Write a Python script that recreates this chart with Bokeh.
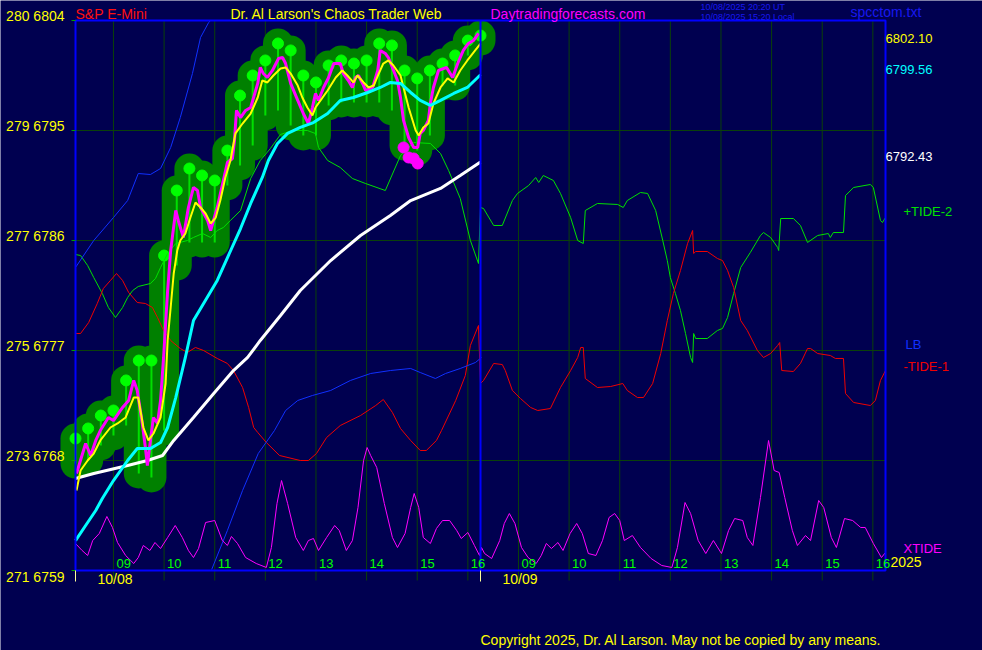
import math
import numpy as np
from bokeh.plotting import figure
from bokeh.models import Range1d, Label
from bokeh.embed import file_html
from bokeh.resources import INLINE
from bokeh.core.properties import value

FONT = "Liberation Sans"
BG = "#000050"
GRID = "#0A400A"
BLUE = "#0000FF"

# ---------------- data ----------------
# x = trading-session hours elapsed (session starts 08:15, 8 h per day, two days)
session_start = 8.25
session_len = 8.0
day_labels = ["10/08", "10/09"]
hour_labels = ["09", "10", "11", "12", "13", "14", "15", "16"]

price_ticks = [6759, 6768, 6777, 6786, 6795, 6804]
price_tick_labels = ["271 6759", "273 6768", "275 6777", "277 6786", "279 6795", "280 6804"]

# close price (magenta)
close_t = [0.02, 0.20, 0.30, 0.40, 0.49, 0.65, 0.75, 0.93, 1.05, 1.15,
           1.22, 1.32, 1.38, 1.42, 1.48, 1.54, 1.62, 1.68, 1.74, 1.78,
           1.82, 1.88, 1.98, 2.03, 2.13, 2.23, 2.33, 2.41, 2.47, 2.61,
           2.67, 2.80, 2.92, 3.00, 3.10, 3.14, 3.18, 3.26, 3.36, 3.46,
           3.60, 3.65, 3.71, 3.79, 3.89, 4.01, 4.09, 4.15, 4.25, 4.39,
           4.50, 4.60, 4.68, 4.74, 4.80, 4.90, 5.00, 5.10, 5.23, 5.29,
           5.39, 5.47, 5.53, 5.59, 5.67, 5.73, 5.87, 5.97, 6.02, 6.12,
           6.18, 6.26, 6.36, 6.42, 6.48, 6.58, 6.68, 6.76, 6.81, 6.87,
           6.97, 7.01, 7.07, 7.17, 7.33, 7.45, 7.55, 7.66, 7.76, 7.86,
           7.96]
close_p = [6766.94, 6769.39, 6768.41, 6769.64, 6770.45, 6771.52, 6771.27, 6772.34, 6772.91, 6774.55,
           6773.73, 6771.03, 6769.06, 6767.59, 6769.64, 6771.52, 6771.03, 6772.91, 6776.43, 6779.21,
           6781.91, 6785.18, 6788.46, 6787.64, 6786.25, 6788.70, 6790.34, 6790.09, 6788.70, 6787.64,
           6786.82, 6788.70, 6790.91, 6792.38, 6792.71, 6794.18, 6796.64, 6796.06, 6796.64, 6796.88,
           6798.85, 6800.16, 6799.66, 6799.34, 6799.91, 6800.89, 6800.97, 6800.48, 6798.85, 6797.46,
           6796.39, 6795.57, 6796.88, 6798.03, 6797.46, 6798.52, 6799.34, 6800.48, 6800.48, 6799.66,
           6799.09, 6798.52, 6799.34, 6799.50, 6798.85, 6798.27, 6798.52, 6799.91, 6801.55, 6801.30,
           6800.97, 6800.16, 6799.09, 6797.70, 6795.82, 6794.43, 6793.61, 6793.61, 6794.76, 6795.00,
           6795.82, 6797.21, 6798.52, 6799.91, 6800.16, 6799.34, 6800.48, 6801.55, 6802.12, 6802.36,
           6802.94]

# fast average (yellow)
yellow_t = [0.02, 0.10, 0.24, 0.36, 0.49, 0.69, 0.83, 0.99, 1.15, 1.24,
            1.34, 1.44, 1.54, 1.68, 1.78, 1.82, 1.88, 1.94, 2.01, 2.07,
            2.17, 2.27, 2.37, 2.47, 2.57, 2.67, 2.77, 2.86, 2.96, 3.06,
            3.16, 3.30, 3.46, 3.60, 3.69, 3.79, 3.91, 4.05, 4.15, 4.25,
            4.39, 4.48, 4.58, 4.68, 4.74, 4.84, 4.98, 5.14, 5.27, 5.37,
            5.49, 5.57, 5.69, 5.79, 5.89, 5.99, 6.08, 6.18, 6.28, 6.42,
            6.48, 6.58, 6.72, 6.78, 6.87, 6.97, 7.07, 7.21, 7.35, 7.47,
            7.60, 7.74, 7.86, 8.00]
yellow_p = [6765.55, 6767.18, 6768.00, 6768.57, 6769.64, 6770.70, 6771.03, 6771.52, 6773.15, 6773.15,
            6770.70, 6769.64, 6770.21, 6771.52, 6774.30, 6777.82, 6780.52, 6783.30, 6785.18, 6786.00,
            6786.57, 6787.88, 6789.11, 6788.70, 6788.21, 6787.39, 6787.88, 6789.27, 6791.16, 6792.55,
            6794.76, 6795.57, 6796.39, 6797.70, 6799.09, 6798.93, 6799.50, 6800.07, 6800.16, 6799.66,
            6798.68, 6797.70, 6796.88, 6796.23, 6796.88, 6797.46, 6798.27, 6799.34, 6799.91, 6799.50,
            6798.93, 6799.50, 6798.93, 6798.52, 6798.68, 6799.66, 6800.48, 6800.73, 6800.32, 6799.50,
            6798.52, 6796.88, 6795.00, 6794.59, 6795.25, 6795.57, 6797.21, 6798.52, 6799.26, 6798.93,
            6799.91, 6800.73, 6801.38, 6802.10]

# medium average (cyan)
cyan_t = [0.00, 0.20, 0.40, 0.53, 0.75, 1.03, 1.22, 1.48, 1.68, 1.82,
          1.98, 2.17, 2.33, 2.53, 2.80, 3.02, 3.26, 3.46, 3.69, 3.81,
          3.99, 4.19, 4.44, 4.70, 4.98, 5.23, 5.49, 5.77, 6.02, 6.22,
          6.42, 6.62, 6.81, 7.01, 7.21, 7.47, 7.74, 8.00]
cyan_p = [6761.45, 6762.68, 6763.91, 6764.89, 6766.36, 6768.00, 6768.98, 6768.98, 6769.47, 6770.70,
          6773.15, 6776.43, 6779.45, 6780.85, 6782.73, 6784.77, 6786.98, 6789.03, 6791.16, 6792.55,
          6793.94, 6794.76, 6795.25, 6795.65, 6796.39, 6797.46, 6797.70, 6798.11, 6798.52, 6798.93,
          6798.85, 6798.11, 6797.46, 6797.05, 6797.46, 6798.03, 6798.52, 6799.56]

# slow average (white)
white_t = [0.00, 0.36, 1.03, 1.42, 1.72, 1.94, 2.33, 2.73, 3.12, 3.40,
           3.65, 4.05, 4.44, 5.04, 5.63, 6.22, 6.62, 7.21, 7.60, 8.00]
white_p = [6766.53, 6766.94, 6767.59, 6768.00, 6768.41, 6769.64, 6771.52, 6773.48, 6775.36, 6776.43,
           6777.82, 6779.86, 6781.91, 6784.36, 6786.41, 6788.05, 6789.27, 6790.26, 6791.32, 6792.43]

# 15-minute bars: high / low
bar_t = [k * 0.25 for k in range(33)]
bar_hi = [6769.80, 6770.62, 6771.68, 6772.09, 6774.55, 6776.18, 6776.18, 6784.77, 6790.09, 6791.89,
          6791.32, 6790.91, 6793.36, 6797.86, 6799.50, 6800.73, 6802.12, 6801.55, 6799.50, 6798.93,
          6800.32, 6800.73, 6800.48, 6800.73, 6802.12, 6801.96, 6799.91, 6799.26, 6799.91, 6800.48,
          6801.14, 6802.36, 6802.77]
bar_lo = [6767.75, 6768.00, 6769.23, 6770.05, 6770.86, 6766.94, 6766.61, 6770.45, 6783.95, 6785.84,
          6785.84, 6785.84, 6790.50, 6792.14, 6793.77, 6796.23, 6796.64, 6795.41, 6794.59, 6794.59,
          6797.05, 6797.29, 6797.29, 6797.29, 6797.29, 6796.64, 6793.77, 6793.36, 6794.59, 6798.68,
          6798.68, 6801.14, 6802.36]

# low markers (magenta dots)
mark_t = [6.48, 6.58, 6.68, 6.76]
mark_p = [6793.61, 6792.79, 6792.71, 6792.30]

# tides (0-100 oscillator scale)
tide2_t = [0.00, 0.10, 0.24, 0.36, 0.53, 0.65, 0.79, 0.93, 1.03, 1.13,
           1.24, 1.48, 1.58, 1.68, 1.82, 1.98, 2.21, 2.33, 2.51, 2.67,
           2.80, 2.92, 3.06, 3.26, 3.46, 3.65, 3.85, 4.05, 4.29, 4.58,
           4.74, 4.80, 4.98, 5.23, 5.47, 5.73, 6.12, 6.42, 6.68, 7.01,
           7.21, 7.37, 7.60, 7.80, 7.96, 8.00,
           8.06, 8.26, 8.43, 8.63, 8.73, 8.95, 9.09, 9.15, 9.24, 9.44,
           9.58, 9.78, 9.92, 10.03, 10.07, 10.31, 10.71, 10.82, 10.90, 11.16,
           11.30, 11.46, 11.60, 11.69, 11.75, 11.85, 11.95, 12.05, 12.15, 12.19,
           12.21, 12.25, 12.48, 12.68, 12.78, 12.88, 13.00, 13.14, 13.33, 13.53,
           13.59, 13.73, 13.87, 13.89, 13.93, 14.18, 14.32, 14.46, 14.66, 14.87,
           14.91, 14.97, 15.17, 15.21, 15.37, 15.70, 15.76, 15.90, 15.94, 16.00]
tide2_v = [57.45, 57.27, 55.45, 53.27, 50.36, 47.82, 46.00, 47.82, 49.64, 50.91,
           51.64, 52.18, 53.09, 55.09, 57.64, 59.45, 60.00, 60.55, 61.27, 60.55,
           61.82, 62.36, 63.64, 65.45, 71.27, 74.55, 76.73, 79.27, 80.00, 80.00,
           79.45, 76.91, 74.55, 73.27, 71.27, 70.36, 69.09, 75.45, 77.82, 77.64,
           75.82, 72.73, 67.64, 60.00, 55.82, 66.00,
           65.82, 62.73, 62.73, 67.27, 68.55, 70.00, 71.45, 70.55, 71.82, 70.91,
           68.55, 64.18, 60.00, 59.45, 65.45, 66.73, 66.55, 66.00, 67.27, 68.73,
           68.55, 65.45, 60.00, 56.36, 53.27, 50.36, 47.27, 43.09, 38.73, 37.82,
           43.09, 42.18, 42.18, 43.64, 44.00, 46.00, 50.36, 55.09, 57.82, 60.91,
           61.45, 60.55, 58.73, 58.18, 64.00, 64.00, 62.73, 59.64, 60.91, 61.27,
           60.55, 61.45, 61.45, 68.18, 69.64, 70.18, 69.64, 63.64, 63.27, 64.18]

tide1_t = [0.00, 0.10, 0.26, 0.43, 0.55, 0.69, 0.81, 0.93, 1.05, 1.22,
           1.38, 1.52, 1.62, 1.74, 1.88, 2.07, 2.21, 2.37, 2.53, 2.80,
           3.00, 3.12, 3.30, 3.42, 3.52, 3.60, 3.77, 4.03, 4.44, 4.60,
           4.76, 4.96, 5.23, 5.63, 5.93, 6.08, 6.26, 6.42, 6.62, 6.81,
           6.93, 7.13, 7.23, 7.51, 7.70, 7.80, 7.96, 8.00,
           8.06, 8.26, 8.43, 8.49, 8.63, 8.79, 8.99, 9.13, 9.38, 9.58,
           9.78, 9.92, 9.98, 10.03, 10.07, 10.31, 10.57, 10.81, 10.90, 11.10,
           11.22, 11.40, 11.56, 11.69, 11.81, 11.95, 12.09, 12.19, 12.21, 12.25,
           12.48, 12.68, 12.78, 12.88, 13.00, 13.14, 13.27, 13.47, 13.59, 13.73,
           13.87, 13.91, 13.95, 14.18, 14.32, 14.46, 14.52, 14.66, 14.91, 15.01,
           15.17, 15.21, 15.37, 15.70, 15.80, 15.90, 16.00]
tide1_v = [43.09, 43.09, 45.09, 48.55, 51.27, 52.73, 54.00, 52.73, 50.55, 48.73,
           48.55, 47.82, 46.00, 43.64, 41.82, 40.36, 39.64, 40.55, 40.00, 38.55,
           37.64, 36.36, 33.27, 29.64, 26.00, 25.09, 23.27, 20.91, 20.00, 20.00,
           21.27, 24.18, 26.36, 28.18, 30.00, 31.09, 28.73, 25.82, 23.64, 21.82,
           21.82, 23.64, 25.45, 30.91, 35.45, 40.91, 44.55, 34.00,
           34.55, 37.64, 37.45, 36.36, 32.73, 31.27, 29.64, 29.09, 29.45, 33.27,
           36.36, 38.73, 40.55, 40.55, 34.91, 33.27, 33.45, 34.00, 32.73, 31.45,
           31.45, 34.00, 39.45, 45.45, 50.36, 54.55, 59.45, 61.82, 57.64, 58.00,
           58.00, 56.73, 56.36, 54.55, 51.45, 45.45, 43.64, 40.00, 38.73, 39.45,
           40.91, 41.45, 36.36, 36.18, 37.64, 40.36, 40.36, 39.45, 39.09, 38.55,
           38.55, 32.18, 30.55, 30.00, 30.91, 34.55, 36.36]

NAN = float("nan")
lb_t = [0.00, 0.36, 0.75, 1.03, 1.24, 1.48, 1.68, 1.88, 2.07, 2.31,
        2.47, 2.63, 2.67, NAN, 2.69, 3.00, 3.30, 3.61, 3.93,
        4.15, 4.39, 4.68, 5.04, 5.43, 5.83, 6.22, 6.62, 6.81, 7.11,
        7.31, 7.60, 7.90, 8.02]
lb_v = [55.09, 60.00, 64.18, 67.27, 72.18, 72.00, 73.09, 76.91, 82.36, 90.36,
        96.91, 99.64, 100.00, NAN, 0.18, 7.27, 14.55, 21.27, 25.45,
        29.09, 30.91, 31.82, 32.73, 34.55, 35.82, 36.36, 36.73, 36.00, 34.91,
        35.82, 36.73, 37.82, 38.73]

xtide_t = [0.00, 0.13, 0.24, 0.34, 0.47, 0.62, 0.73, 0.83, 0.99, 1.15,
           1.24, 1.34, 1.47, 1.57, 1.68, 1.82, 1.97, 2.11, 2.23, 2.33,
           2.43, 2.57, 2.75, 2.90, 3.00, 3.08, 3.20, 3.36, 3.57, 3.77,
           3.87, 3.98, 4.07, 4.19, 4.35, 4.50, 4.60, 4.70, 4.80, 4.96,
           5.12, 5.21, 5.35, 5.47, 5.58, 5.69, 5.76, 5.83, 5.95, 6.10,
           6.26, 6.36, 6.51, 6.62, 6.69, 6.78, 6.87, 7.01, 7.13, 7.25,
           7.39, 7.53, 7.62, 7.75, 7.88, 7.98, 8.02, 8.08, 8.22, 8.38,
           8.47, 8.57, 8.68, 8.81, 8.94, 9.10, 9.20, 9.30, 9.40, 9.53,
           9.63, 9.77, 9.90, 10.01, 10.13, 10.28, 10.41, 10.54, 10.65, 10.75,
           10.84, 11.00, 11.16, 11.37, 11.58, 11.78, 11.89, 12.04, 12.15, 12.30,
           12.45, 12.60, 12.76, 12.90, 13.02, 13.18, 13.27, 13.38, 13.53, 13.69,
           13.80, 13.90, 14.01, 14.16, 14.26, 14.42, 14.52, 14.68, 14.78, 14.93,
           15.03, 15.19, 15.35, 15.51, 15.60, 15.76, 15.92, 16.00]
xtide_v = [4.91, 3.64, 2.73, 5.45, 6.73, 9.82, 7.82, 5.09, 2.73, 1.27,
           2.36, 4.55, 3.64, 5.09, 4.00, 6.00, 8.18, 6.00, 3.64, 2.36,
           4.00, 8.73, 9.09, 5.45, 4.55, 6.18, 4.91, 2.36, 1.27, 0.55,
           4.18, 12.18, 16.36, 12.18, 6.00, 3.64, 5.45, 5.82, 3.64, 6.00,
           8.18, 7.27, 3.64, 5.45, 11.45, 20.00, 22.36, 20.91, 18.73, 12.18,
           6.00, 4.18, 6.73, 11.45, 14.00, 11.45, 6.00, 4.91, 7.64, 9.09,
           9.09, 7.27, 5.82, 6.91, 4.55, 2.73, 4.18, 3.09, 2.18, 5.45,
           8.55, 10.36, 8.55, 4.18, 2.36, 1.27, 2.73, 4.91, 4.00, 5.09,
           3.64, 6.73, 8.55, 6.73, 3.09, 2.73, 5.45, 9.64, 10.36, 9.09,
           5.45, 6.36, 4.18, 2.18, 0.91, 0.55, 4.18, 12.36, 10.36, 5.45,
           3.09, 5.45, 3.09, 7.27, 9.45, 9.09, 6.00, 4.55, 13.27, 23.64,
           18.18, 17.82, 13.27, 7.27, 4.55, 6.36, 5.45, 12.73, 11.45, 6.00,
           4.18, 9.45, 9.09, 7.82, 7.82, 4.91, 2.36, 3.27]

last_values = [6802.10, 6799.56, 6792.43]

# ---------------- layout (pixels) ----------------
W, H = 982, 650
FL, FR, FT, FB = 75, 885, 20, 570          # plot box edges on the canvas
SHIFT = 5                                   # baseline correction for 13-14px text
x_span = len(day_labels) * session_len
ymin, ymax = price_ticks[0], price_ticks[-1]
xpx = (FR - FL) / x_span
ypx = (FB - FT) / (ymax - ymin)
tpx = (FB - FT) / 100.0

p = figure(width=W, height=H,
           x_range=Range1d(-FL / xpx, (W - FL) / xpx),
           y_range=Range1d(ymin - (H - FB) / ypx, ymax + FT / ypx),
           x_axis_type=None, y_axis_type=None,
           output_backend="svg", toolbar_location=None,
           background_fill_color=BG, border_fill_color=BG,
           min_border=0, min_border_left=0, min_border_right=0,
           min_border_top=0, min_border_bottom=0)
p.extra_y_ranges = {"tide": Range1d(0 - (H - FB) / tpx, 100 + FT / tpx)}
p.outline_line_color = None
p.xgrid.visible = False
p.ygrid.visible = False

day_starts = [i * session_len for i in range(len(day_labels))]
hour_x, hour_txt = [], []
for d in range(len(day_labels)):
    for h in hour_labels:
        hour_x.append(d * session_len + int(h) - session_start)
        hour_txt.append(h)

# grid
p.ray(x=hour_x, y=[ymax] * len(hour_x), length=FB - FT + 10, angle=-math.pi / 2,
      length_units="screen", line_color=GRID, line_width=1)
p.segment(x0=[0] * 4, y0=price_ticks[1:-1], x1=[x_span] * 4, y1=price_ticks[1:-1],
          line_color=GRID, line_width=1)

# price bubbles
p.segment(x0=bar_t, y0=bar_lo, x1=bar_t, y1=bar_hi, line_width=30,
          line_color="#008000", line_cap="round")
p.segment(x0=bar_t, y0=bar_lo, x1=bar_t, y1=bar_hi, line_width=2, line_color="#00E000")
p.scatter(bar_t, bar_hi, size=11, color="#00FF00")

# tides
p.line(np.array(tide2_t), np.array(tide2_v), y_range_name="tide", line_color="#00E000", line_width=1)
p.line(np.array(tide1_t), np.array(tide1_v), y_range_name="tide", line_color="#F00000", line_width=1)
p.line(np.array(lb_t), np.array(lb_v), y_range_name="tide", line_color="#1030FF", line_width=1)
p.line(np.array(xtide_t), np.array(xtide_v), y_range_name="tide", line_color="#FF00FF", line_width=1)

# price lines
p.line(white_t, white_p, line_color="#FFFFFF", line_width=3)
p.line(close_t, close_p, line_color="#FF00FF", line_width=3)
p.line(yellow_t, yellow_p, line_color="#FFFF00", line_width=2)
p.line(cyan_t, cyan_p, line_color="#00FFFF", line_width=3)
p.scatter(mark_t, mark_p, size=11, color="#FF00FF")

# box, day separator, ticks
p.quad(left=0, right=x_span, bottom=ymin, top=ymax, fill_color=None,
       line_color=BLUE, line_width=2)
p.segment(x0=[day_starts[1]], y0=[ymin], x1=[day_starts[1]], y1=[ymax],
          line_color=BLUE, line_width=2)
p.ray(x=[0] * len(price_ticks), y=price_ticks, length=4, angle=math.pi,
      length_units="screen", line_color="#00A000", line_width=1)
p.ray(x=day_starts, y=[ymin] * len(day_starts), length=11, angle=-math.pi / 2,
      length_units="screen", line_color="#FFFF99", line_width=1)

# y tick labels
p.text(x=[0] * len(price_ticks), y=price_ticks, text=price_tick_labels,
       text_color="#FFFF00", text_font=value(FONT), text_font_size="14px",
       text_align="right", text_baseline="alphabetic", x_offset=-11,
       y_offset=[(11 if t == ymin else 0) - SHIFT for t in price_ticks])

# hour labels inside the box
p.text(x=hour_x, y=[ymin] * len(hour_x), text=hour_txt, text_color="#00FF00",
       text_font=value(FONT), text_font_size="13px", text_baseline="alphabetic",
       x_offset=3, y_offset=-2 - SHIFT)


def lab(text, x, y, color, size="14px", x_units="screen", y_units="screen",
        x_offset=0, shift=SHIFT):
    p.add_layout(Label(x=x, y=y, x_units=x_units, y_units=y_units, text=text,
                       text_color=color, text_font=FONT, text_font_size=size,
                       text_baseline="alphabetic", text_align="left",
                       x_offset=x_offset, y_offset=shift))


# header (y measured from canvas bottom, baseline positions)
lab("S&P E-Mini", 75, H - 18.5, "#FF1010")
lab("Dr. Al Larson's Chaos Trader Web", 230, H - 18.5, "#FFFF00")
lab("Daytradingforecasts.com", 490, H - 18.5, "#FF00FF")
lab("10/08/2025 20:20 UT", 700, H - 8.5, "#1818F0", size="9px", shift=2)
lab("10/08/2025 15:20 Local", 700, H - 18.5, "#1818F0", size="9px", shift=2)
lab("spcctom.txt", 850, H - 16, "#1818F0")

for v, c in zip(last_values, ["#FFFF00", "#00FFFF", "#FFFFFF"]):
    lab("%.2f" % v, FR, v, c, size="13px", y_units="data")

lab("+TIDE-2", 903, H - 216, "#00E000", size="13px")
lab("LB", 905, H - 349, "#1030FF", size="13px")
lab("-TIDE-1", 903, H - 371, "#F00000", size="13px")
lab("XTIDE", 903, H - 553, "#FF00FF", size="13px")
lab("2025", 890, H - 566, "#FFFF00")

for d, s in zip(day_starts, day_labels):
    lab(s, d, H - 583, "#FFFF00", x_units="data", x_offset=22)

lab("Copyright 2025, Dr. Al Larson. May not be copied by any means.", 480, H - 644, "#FFFF00")

open("out.html", "w").write(file_html(p, INLINE))
